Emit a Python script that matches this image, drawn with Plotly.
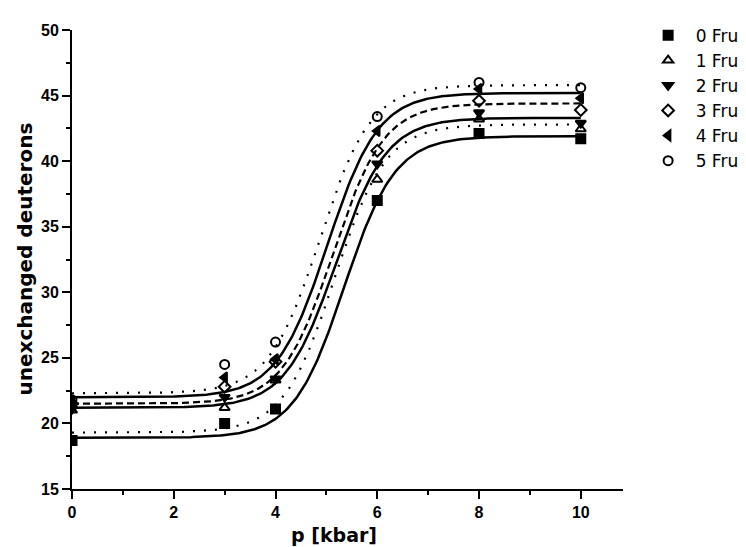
import numpy as np
import plotly.graph_objects as go

# measured points
pressure = [0, 3, 4, 6, 8, 10]
series_names = ["0 Fru", "1 Fru", "2 Fru", "3 Fru", "4 Fru", "5 Fru"]
fru0 = [18.7, 20.0, 21.1, 37.0, 42.1, 41.7]
fru1 = [21.0, 21.2, 23.3, 38.6, 43.2, 42.45]
fru2 = [21.1, 22.0, 23.4, 39.8, 43.7, 42.9]
fru3 = [21.5, 22.8, 24.7, 40.8, 44.6, 43.9]
fru4 = [21.6, 23.5, 24.9, 42.3, 45.5, 44.8]
fru5 = [21.8, 24.5, 26.2, 43.4, 46.0, 45.6]
series_values = [fru0, fru1, fru2, fru3, fru4, fru5]
symbols = ["square", "triangle-up-open", "triangle-down", "diamond-open",
           "triangle-left", "circle-open"]

# Boltzmann fit curves (A1, A2, x0, dx)
fit_A1 = [18.9, 21.2, 21.5, 22.0, 22.3, 19.3]
fit_A2 = [41.9, 43.3, 44.4, 45.2, 45.8, 42.8]
fit_x0 = [5.35, 5.19, 5.13, 5.02, 4.87, 5.16]
fit_dx = [0.50, 0.50, 0.50, 0.50, 0.50, 0.50]
fit_dash = ["solid", "solid", "7px,4px", "solid", "2px,9px", "2px,9px"]

x_ticks = [0, 2, 4, 6, 8, 10]
y_ticks = [15, 20, 25, 30, 35, 40, 45, 50]

fig = go.Figure()

xs = np.linspace(0, 10, 301)
for a1, a2, x0, dx, dash in zip(fit_A1, fit_A2, fit_x0, fit_dx, fit_dash):
    ys = a2 + (a1 - a2) / (1 + np.exp((xs - x0) / dx))
    fig.add_trace(go.Scatter(x=xs, y=ys, mode="lines", showlegend=False,
                             line=dict(color="black", width=2.5 if dash == "solid" else 2.2, dash=dash),
                             hoverinfo="skip"))

for name, vals, sym in zip(series_names, series_values, symbols):
    fig.add_trace(go.Scatter(x=pressure, y=vals, mode="markers", name=name,
                             marker=dict(symbol=sym, size=9, color="black",
                                         line=dict(color="black", width=2))))

tick_font = dict(family="Liberation Sans", size=16, color="black")
title_font = dict(family="DejaVu Sans", size=20, color="black")
xtitle_font = dict(family="DejaVu Sans", size=19, color="black")
fig.update_layout(
    width=746, height=547,
    paper_bgcolor="white", plot_bgcolor="white",
    margin=dict(l=64, r=119, t=10, b=66),
    font=dict(family="Liberation Sans", size=16, color="black"),
    legend=dict(x=1.032, y=1.027, xanchor="left", yanchor="top",
                font=dict(family="DejaVu Sans", size=17, color="black"),
                bgcolor="rgba(0,0,0,0)", itemwidth=45, tracegroupgap=0),
    xaxis=dict(range=[0, 10.83], tickvals=x_ticks, ticktext=[f"<b>{v}</b>" for v in x_ticks],
               showgrid=False, zeroline=False, showline=True, linecolor="black", linewidth=2,
               ticks="outside", ticklen=8, tickwidth=2, tickcolor="black", automargin=False,
               minor=dict(tickvals=[1, 3, 5, 7, 9], ticks="outside", ticklen=4, tickwidth=2, tickcolor="black"),
               tickfont=tick_font),
    yaxis=dict(range=[15, 50], tickvals=y_ticks, ticktext=[f"<b>{v}</b>" for v in y_ticks],
               showgrid=False, zeroline=False, showline=True, linecolor="black", linewidth=2,
               ticks="outside", ticklen=8, tickwidth=2, tickcolor="black", automargin=False,
               minor=dict(tickvals=[17.5, 22.5, 27.5, 32.5, 37.5, 42.5, 47.5], ticks="outside",
                          ticklen=4, tickwidth=2, tickcolor="black"),
               tickfont=tick_font),
    annotations=[
        dict(text="<b>p [kbar]</b>", xref="paper", yref="paper", x=0.475, y=-0.1,
             xanchor="center", yanchor="middle", showarrow=False, font=xtitle_font),
        dict(text="<b>unexchanged deuterons</b>", xref="paper", yref="paper", x=-0.087, y=0.5,
             xanchor="center", yanchor="middle", textangle=-90, showarrow=False, font=title_font),
    ],
)

fig.write_html("out.html")
